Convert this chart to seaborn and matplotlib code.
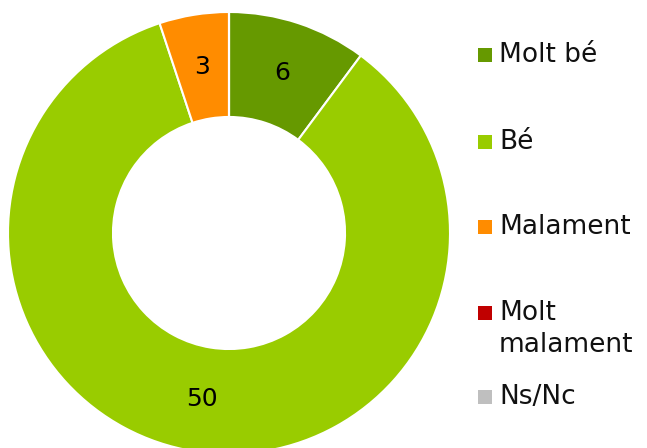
import matplotlib
matplotlib.use("Agg")
import matplotlib.pyplot as plt
import seaborn as sns
import numpy as np
from matplotlib.patches import Rectangle

categories = ["Molt bé", "Bé", "Malament", "Molt malament", "Ns/Nc"]
legend_labels = ["Molt bé", "Bé", "Malament", "Molt\nmalament", "Ns/Nc"]
values = [6, 50, 3, 0, 0]
colors = ["#669900", "#99CC00", "#FF8C00", "#C00000", "#BFBFBF"]

sns.set_theme(style="white")
plt.rcParams["font.family"] = ["DejaVu Sans"]

W, H = 647, 448
fig = plt.figure(figsize=(W / 100, H / 100), dpi=100)
cx, cy, R = 229, 215, 221
ax = fig.add_axes([(cx - R) / W, (cy - R) / H, 2 * R / W, 2 * R / H])

ring = 0.475
wedges, _ = ax.pie(values, colors=colors, startangle=90, counterclock=False,
                   radius=1.0,
                   wedgeprops=dict(width=ring, edgecolor="white", linewidth=1.5))
ax.set_xlim(-1, 1)
ax.set_ylim(-1, 1)
ax.set_aspect("equal")
ax.axis("off")

rmid = 1.0 - ring / 2
for w, v in zip(wedges, values):
    if v == 0:
        continue
    ang = np.deg2rad((w.theta1 + w.theta2) / 2)
    ax.text(rmid * np.cos(ang), rmid * np.sin(ang), str(v), ha="center", va="center",
            fontsize=18, color="black")

# legend
ys = [55, 142, 227, 313, 397]
for lab, col, y in zip(legend_labels, colors, ys):
    fig.patches.append(Rectangle((478 / W, 1 - (y + 7) / H), 14 / W, 14 / H,
                                 transform=fig.transFigure, facecolor=col, edgecolor="none"))
    if "\n" in lab:
        fig.text(499 / W, 1 - (y - 13) / H, lab, ha="left", va="top",
                 fontsize=19, color="#111111", linespacing=1.3)
    else:
        fig.text(499 / W, 1 - y / H, lab, ha="left", va="center",
                 fontsize=19, color="#111111")

fig.savefig("out.png", dpi=100)
